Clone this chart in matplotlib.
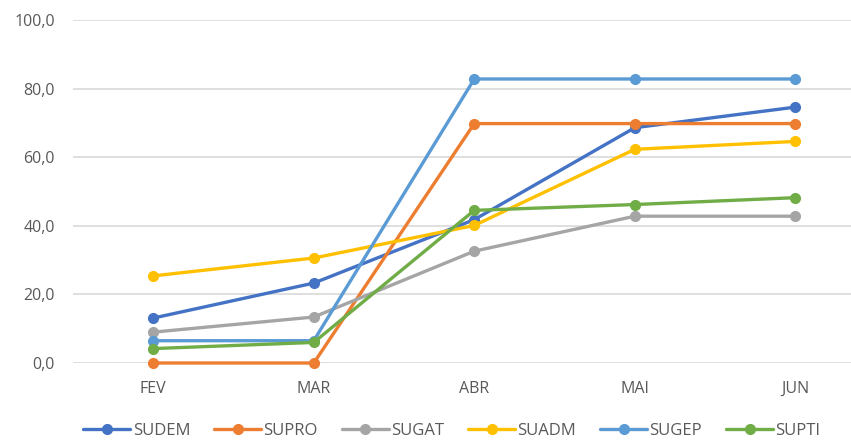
import matplotlib
matplotlib.use("Agg")
import matplotlib.pyplot as plt
from matplotlib.ticker import FuncFormatter

# Meses (eixo X)
meses = ["FEV", "MAR", "ABR", "MAI", "JUN"]

# Valores, por setor
sudem = [13.1, 23.3, 41.8, 68.6, 74.6]
supro = [0.0, 0.0, 69.8, 69.8, 69.8]
sugat = [9.0, 13.4, 32.6, 42.8, 42.8]
suadm = [25.4, 30.6, 40.1, 62.3, 64.6]
sugep = [6.5, 6.5, 82.8, 82.8, 82.8]
supti = [4.2, 6.0, 44.5, 46.2, 48.2]

series = [
    ("SUDEM", sudem, "#4472C4"),
    ("SUPRO", supro, "#ED7D31"),
    ("SUGAT", sugat, "#A5A5A5"),
    ("SUADM", suadm, "#FFC000"),
    ("SUGEP", sugep, "#5B9BD5"),
    ("SUPTI", supti, "#70AD47"),
]

plt.rcParams["font.family"] = ["Open Sans", "DejaVu Sans"]

fig = plt.figure(figsize=(8.51, 4.43), dpi=100)
# área do gráfico: começa em x=73px e é cortada na borda direita (como no original)
ax = fig.add_axes([73 / 851, 80 / 443, 778 / 851, 343 / 443])

x = list(range(len(meses)))
for nome, valores, cor in series:
    ax.plot(x, valores, color=cor, linewidth=2.4, marker="o", markersize=7,
            label=nome, solid_capstyle="round", clip_on=False)

ax.set_ylim(0, 100)
ax.set_yticks(range(0, 101, 20))
ax.yaxis.set_major_formatter(FuncFormatter(lambda v, _: f"{v:.1f}".replace(".", ",")))
ax.set_xlim(-0.5, (851 - 152) / 160.8)
ax.set_xticks(x)
ax.set_xticklabels(meses)

ax.grid(axis="y", color="#D9D9D9", linewidth=1.2)
ax.set_axisbelow(True)
for s in ax.spines.values():
    s.set_visible(False)
ax.tick_params(length=0, colors="#595959", labelsize=11.5)
ax.tick_params(axis="y", pad=13)
ax.tick_params(axis="x", pad=13)

fig.legend(loc="center", bbox_to_anchor=(452 / 851, 1 - 431 / 443), ncol=6,
           frameon=False, fontsize=12, handlelength=2.8, columnspacing=1.45,
           handletextpad=0.15, labelcolor="#595959")

fig.savefig("out.png", dpi=100)
